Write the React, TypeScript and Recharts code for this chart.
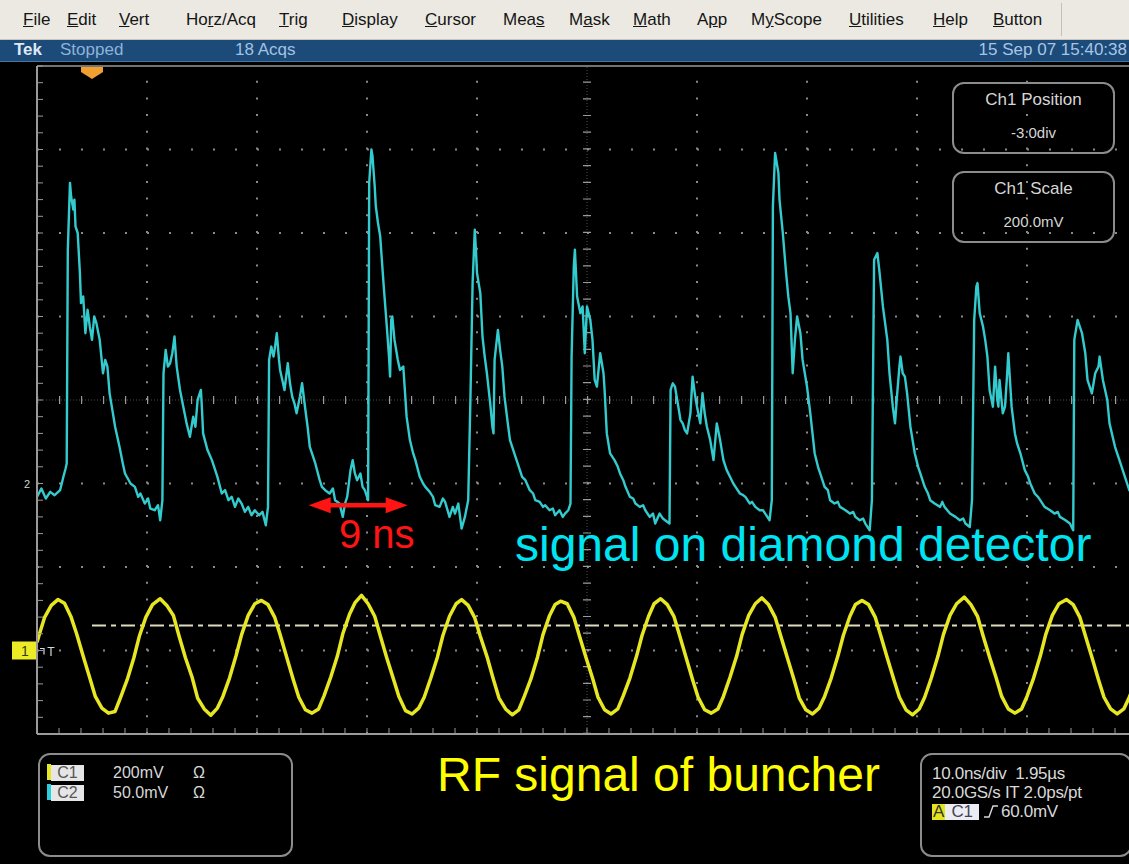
import React from "react";
import { LineChart, Line, XAxis, YAxis, ReferenceLine } from "recharts";

// Horizontal: 10.0 ns/div over 10 divisions; vertical: 8 divisions
const timeDivs = [0, 10, 20, 30, 40, 50, 60, 70, 80, 90, 100];
const voltDivs = [-4, -3, -2, -1, 0, 1, 2, 3, 4];

// Channel settings (mV/div, ground position in divisions)
const ch1 = { scale: 200, position: -3 };
const ch2 = { scale: 50, position: -1 };

// C2 – signal on diamond detector, [time ns, mV]
const diamondSignal: [number, number][] = [
  [0, -8], [0.4, -3], [0.8, -9], [1.2, -5], [1.6, -7], [2.1, -4], [2.4, 4], [2.6, 9], [2.7, 12], [2.8, 140],
  [3.0, 180], [3.1, 172], [3.3, 164], [3.4, 170], [3.5, 154], [3.7, 150], [3.9, 126], [4.0, 108], [4.2, 112], [4.4, 90],
  [4.6, 104], [4.8, 94], [5.0, 86], [5.2, 100], [5.4, 96], [5.7, 86], [6.0, 66], [6.2, 74], [6.4, 70], [6.6, 54],
  [6.8, 46], [7.1, 34], [7.5, 22], [7.8, 12], [8.0, 6], [8.5, 0], [8.9, -2], [9.2, -8], [9.4, -6], [9.8, -12],
  [10.1, -9], [10.3, -15], [10.7, -16], [11.0, -13], [11.2, -22], [11.4, -10], [11.5, 66], [11.7, 80], [11.9, 70], [12.1, 72],
  [12.3, 78], [12.5, 88], [12.7, 70], [13.0, 56], [13.3, 46], [13.6, 36], [13.9, 28], [14.2, 40], [14.4, 34], [14.6, 50],
  [14.9, 56], [15.0, 44], [15.1, 30], [15.5, 20], [15.9, 14], [16.2, 8], [16.4, 4], [16.8, -6], [17.1, -4], [17.4, -10],
  [17.7, -8], [18.0, -14], [18.3, -9], [18.6, -12], [18.9, -17], [19.2, -14], [19.5, -19], [19.8, -16], [20.2, -19], [20.5, -17],
  [20.8, -25], [21.0, -14], [21.1, 74], [21.3, 82], [21.5, 76], [21.6, 80], [21.8, 90], [22.0, 74], [22.1, 68], [22.3, 62],
  [22.5, 56], [22.8, 72], [23.0, 60], [23.2, 52], [23.4, 48], [23.6, 42], [23.9, 52], [24.1, 60], [24.4, 44], [24.6, 34],
  [24.8, 22], [25.0, 18], [25.3, 12], [25.7, 2], [25.9, -2], [26.2, -4], [26.6, -6], [26.9, -3], [27.1, -10], [27.5, -12],
  [27.8, -20], [28.0, -12], [28.2, -8], [28.5, 8], [28.7, 14], [28.9, 6], [29.1, 2], [29.4, 6], [29.6, -2], [29.8, -4],
  [30.1, -10], [30.2, 180], [30.4, 200], [30.5, 196], [30.7, 178], [30.8, 166], [31.0, 156], [31.2, 148], [31.5, 120], [31.8, 94],
  [32.0, 76], [32.1, 64], [32.2, 98], [32.3, 100], [32.5, 86], [32.7, 78], [32.8, 74], [33.0, 68], [33.3, 70], [33.6, 40],
  [33.9, 26], [34.2, 18], [34.4, 14], [34.8, 4], [35.1, 0], [35.3, -2], [35.7, -5], [36.0, -8], [36.2, -13], [36.6, -14],
  [36.9, -9], [37.1, -11], [37.5, -20], [37.8, -14], [38.0, -18], [38.3, -12], [38.6, -27], [38.9, -20], [39.2, -10], [39.4, 50],
  [39.6, 120], [39.8, 152], [39.9, 140], [40.0, 126], [40.3, 114], [40.5, 88], [40.7, 76], [40.9, 66], [41.2, 48], [41.4, 34],
  [41.5, 30], [41.6, 74], [41.9, 92], [42.1, 80], [42.3, 70], [42.5, 52], [42.8, 36], [43.0, 26], [43.2, 22], [43.5, 16],
  [43.9, 8], [44.1, 4], [44.4, 2], [44.8, -4], [45.1, -6], [45.3, -10], [45.7, -11], [46.0, -14], [46.2, -13], [46.6, -16],
  [46.9, -15], [47.1, -19], [47.5, -16], [47.8, -20], [48.0, -18], [48.3, -16], [48.5, -12], [48.6, 76], [48.8, 130], [48.9, 140],
  [49.1, 112], [49.4, 102], [49.6, 106], [49.8, 78], [50.0, 106], [50.3, 98], [50.5, 86], [50.7, 62], [50.9, 58], [51.2, 78],
  [51.5, 66], [51.6, 56], [51.8, 30], [52.1, 18], [52.5, 14], [52.8, 10], [53.0, 6], [53.3, 2], [53.5, -2], [53.9, -8],
  [54.2, -9], [54.4, -12], [54.8, -14], [55.1, -13], [55.3, -16], [55.7, -20], [56.0, -18], [56.2, -24], [56.6, -18], [56.9, -21],
  [57.1, -22], [57.5, -24], [57.6, 56], [57.8, 60], [58.0, 58], [58.3, 46], [58.5, 38], [58.7, 36], [58.9, 32], [59.1, 30],
  [59.4, 42], [59.6, 64], [59.8, 54], [60.0, 46], [60.3, 36], [60.5, 54], [60.7, 42], [60.9, 34], [61.2, 26], [61.5, 14],
  [61.8, 36], [62.1, 26], [62.4, 14], [62.7, 8], [63.0, 4], [63.3, 0], [63.5, -2], [63.9, -6], [64.2, -7], [64.4, -8],
  [64.8, -12], [65.0, -11], [65.3, -14], [65.7, -16], [66.0, -16], [66.2, -18], [66.6, -22], [66.8, -10], [66.9, 166], [67.1, 198],
  [67.3, 190], [67.4, 186], [67.5, 170], [67.8, 150], [68.1, 126], [68.3, 112], [68.5, 102], [68.7, 66], [68.9, 86], [69.1, 100],
  [69.4, 90], [69.6, 74], [69.8, 66], [70.0, 58], [70.3, 42], [70.5, 30], [70.7, 18], [71.0, 10], [71.2, 6], [71.6, -2],
  [71.9, -4], [72.1, -10], [72.5, -12], [72.8, -11], [73.0, -14], [73.5, -16], [73.9, -18], [74.2, -17], [74.4, -20], [74.8, -22],
  [75.1, -21], [75.3, -24], [75.7, -28], [75.9, -10], [76.1, 134], [76.4, 138], [76.6, 126], [76.9, 106], [77.1, 96], [77.3, 86],
  [77.5, 66], [77.8, 46], [78.0, 36], [78.2, 54], [78.4, 70], [78.5, 76], [78.7, 66], [78.9, 64], [79.1, 54], [79.4, 34],
  [79.8, 18], [80.1, 10], [80.3, 6], [80.7, -2], [81.0, -6], [81.2, -10], [81.6, -12], [82.1, -14], [82.3, -11], [82.5, -14],
  [83.0, -18], [83.5, -20], [83.9, -22], [84.2, -21], [84.4, -24], [84.8, -26], [85.0, -10], [85.2, 98], [85.4, 118], [85.5, 120],
  [85.7, 102], [86.0, 94], [86.2, 86], [86.4, 76], [86.6, 56], [86.9, 46], [87.1, 70], [87.3, 50], [87.4, 46], [87.5, 62],
  [87.8, 42], [88.0, 46], [88.2, 66], [88.3, 78], [88.6, 46], [88.9, 30], [89.1, 24], [89.4, 18], [89.8, 8], [90.1, 4],
  [90.3, 0], [90.7, -6], [91.0, -8], [91.2, -10], [91.6, -14], [92.1, -16], [92.5, -18], [92.8, -17], [93.0, -20], [93.5, -22],
  [93.9, -24], [94.2, -28], [94.3, 86], [94.6, 98], [94.8, 94], [95.0, 90], [95.3, 78], [95.5, 62], [95.9, 54], [96.2, 66],
  [96.5, 70], [96.6, 76], [96.9, 62], [97.1, 56], [97.3, 50], [97.5, 36], [98.0, 22], [98.5, 12], [98.9, 4], [99.3, -4],
  [100, -10],
];

// C1 – RF signal of buncher, [time ns, mV]
const buncherRf: [number, number][] = [
  [0, 20], [0.2, 38], [0.7, 80], [1.3, 108], [1.9, 122], [2.5, 113], [3.1, 80], [3.6, 40], [4.2, -14], [4.8, -66],
  [5.3, -110], [5.9, -138], [6.5, -150], [7.1, -146], [7.6, -112], [8.2, -70], [8.8, -18], [9.3, 34], [9.9, 80], [10.5, 110],
  [11.2, 124], [11.8, 108], [12.4, 84], [12.9, 36], [13.5, -18], [14.1, -64], [14.6, -114], [15.2, -140], [15.8, -155], [16.4, -138],
  [16.9, -110], [17.5, -66], [18.1, -12], [18.6, 38], [19.2, 84], [19.8, 112], [20.4, 120], [21.0, 110], [21.6, 80], [22.1, 38],
  [22.7, -16], [23.3, -70], [23.8, -112], [24.4, -142], [25.0, -150], [25.6, -140], [26.1, -108], [26.7, -64], [27.3, -14], [27.8, 40],
  [28.4, 86], [28.9, 114], [29.5, 132], [30.1, 112], [30.7, 82], [31.2, 36], [31.8, -18], [32.4, -68], [32.9, -110], [33.5, -144],
  [34.1, -152], [34.7, -138], [35.2, -112], [35.8, -66], [36.4, -16], [36.9, 36], [37.5, 82], [38.1, 112], [38.6, 122], [39.2, 108],
  [39.8, 78], [40.3, 34], [40.9, -14], [41.5, -70], [42.0, -114], [42.6, -140], [43.2, -154], [43.8, -142], [44.3, -110], [44.9, -68],
  [45.5, -16], [46.0, 38], [46.6, 84], [47.1, 110], [47.6, 118], [48.2, 112], [48.8, 80], [49.3, 36], [49.9, -16], [50.5, -66],
  [51.0, -112], [51.6, -142], [52.2, -152], [52.8, -140], [53.3, -108], [53.9, -66], [54.5, -14], [55.0, 36], [55.6, 82], [56.1, 112],
  [56.7, 124], [57.3, 110], [57.9, 82], [58.4, 38], [59.0, -16], [59.6, -70], [60.1, -112], [60.7, -142], [61.3, -150], [61.9, -140],
  [62.4, -110], [63.0, -64], [63.6, -14], [64.1, 38], [64.7, 84], [65.3, 112], [65.9, 126], [66.5, 110], [67.1, 80], [67.6, 36],
  [68.2, -16], [68.8, -68], [69.3, -114], [69.9, -142], [70.5, -152], [71.1, -138], [71.6, -110], [72.2, -66], [72.8, -14], [73.3, 36],
  [73.9, 82], [74.4, 110], [75.0, 120], [75.6, 110], [76.2, 80], [76.7, 36], [77.3, -18], [77.9, -70], [78.4, -112], [79.0, -142],
  [79.6, -154], [80.2, -140], [80.7, -112], [81.3, -66], [81.9, -14], [82.4, 38], [83.0, 84], [83.6, 112], [84.3, 128], [84.9, 110],
  [85.5, 82], [86.0, 36], [86.6, -16], [87.2, -66], [87.7, -110], [88.3, -140], [88.9, -150], [89.5, -140], [90.0, -110], [90.6, -66],
  [91.2, -14], [91.7, 38], [92.3, 84], [92.9, 112], [93.6, 122], [94.2, 110], [94.8, 80], [95.3, 36], [95.9, -16], [96.5, -70],
  [97.0, -112], [97.6, -140], [98.2, -152], [98.8, -140], [99.3, -112], [100, -66],
];

const triggerTimeNs = 5;
const triggerLevelMv = 60;
const spacingNs = 9;
const spacingStartNs = 24.7;
const spacingLevelMv = -13;

const menuItems = ["File", "Edit", "Vert", "Horz/Acq", "Trig", "Display", "Cursor", "Meas", "Mask", "Math", "App", "MyScope", "Utilities", "Help", "Button"];
const menuMnemonic = [0, 0, 0, 2, 0, 0, 0, 3, 1, 0, 1, 1, 0, 0, 0];
const menuLeft = [23, 67, 119, 186, 279, 342, 425, 503, 569, 633, 697, 751, 849, 933, 993];

const W = 1129;
const H = 864;
const FONT = "'Liberation Sans', Arial, sans-serif";
const GRID = "#8a8a8a";
const BORDER = "#9a9a9a";
const CYAN = "#34cbce";
const YELLOW = "#e6e622";

const toPoints = (rows: [number, number][]) => rows.map(([t, v]) => ({ t, v }));
const domainOf = (ch: { scale: number; position: number }): [number, number] => [
  (voltDivs[0] - ch.position) * ch.scale,
  (voltDivs[voltDivs.length - 1] - ch.position) * ch.scale,
];

const minorX: number[] = [];
for (let t = timeDivs[0]; t <= timeDivs[timeDivs.length - 1] + 1e-6; t += 2) minorX.push(+t.toFixed(2));
const minorY: number[] = [];
for (let d = voltDivs[0]; d <= voltDivs[voltDivs.length - 1] + 1e-6; d += 0.2) minorY.push(+d.toFixed(2));

const blank = () => "";

function SpacingArrow(p: any) {
  const xa = Math.min(p.x1, p.x2);
  const xb = Math.max(p.x1, p.x2);
  const y = p.y1;
  const head = 22;
  const half = 8;
  return (
    <g>
      <line x1={xa + head - 2} y1={y} x2={xb - head + 2} y2={y} stroke="#ff1414" strokeWidth={4.5} />
      <polygon points={`${xa},${y} ${xa + head},${y - half} ${xa + head},${y + half}`} fill="#ff1414" />
      <polygon points={`${xb},${y} ${xb - head},${y - half} ${xb - head},${y + half}`} fill="#ff1414" />
    </g>
  );
}

function TriggerMark(p: any) {
  const x = p.x1;
  const y = Math.min(p.y1, p.y2);
  return (
    <polygon
      points={`${x - 11},${y + 1} ${x + 11},${y + 1} ${x + 11},${y + 6} ${x},${y + 13} ${x - 11},${y + 6}`}
      fill="#f0a030"
    />
  );
}

function Ch1Ground(p: any) {
  const x = Math.min(p.x1, p.x2);
  const y = p.y1;
  return (
    <g>
      <rect x={x - 25} y={y - 9} width={25} height={18} fill="#ecec26" />
      <text x={x - 12} y={y + 5} textAnchor="middle" fontSize={14} fontFamily={FONT} fill="#3a3a10">1</text>
      <path d={`M${x + 3} ${y - 2} l4 0 l0 6`} stroke="#d8d8d8" strokeWidth={1.2} fill="none" />
      <text x={x + 14} y={y + 5} textAnchor="middle" fontSize={12} fontFamily={FONT} fill="#d8d8d8">T</text>
    </g>
  );
}

function Ch2Ground(p: any) {
  const x = Math.min(p.x1, p.x2);
  return (
    <text x={x - 10} y={p.y1 + 4} textAnchor="middle" fontSize={11} fontFamily={FONT} fill="#c8d8d8">2</text>
  );
}

function Scope() {
  return (
    <LineChart width={1150} height={H} margin={{ top: 66, left: 37, right: 13, bottom: 130 }}>
      <XAxis xAxisId="t" dataKey="t" type="number" domain={[timeDivs[0], timeDivs[timeDivs.length - 1]]} allowDataOverflow
        ticks={minorX} interval={0} orientation="bottom" mirror tickSize={6} tickFormatter={blank}
        axisLine={{ stroke: BORDER, strokeWidth: 2 }} tickLine={{ stroke: BORDER }} />
      <XAxis xAxisId="top" type="number" domain={[timeDivs[0], timeDivs[timeDivs.length - 1]]} allowDataOverflow
        ticks={minorX} interval={0} orientation="top" mirror tickSize={5} tickFormatter={blank}
        axisLine={{ stroke: BORDER, strokeWidth: 1.5 }} tickLine={{ stroke: BORDER }} />
      <YAxis yAxisId="div" type="number" domain={[voltDivs[0], voltDivs[voltDivs.length - 1]]} allowDataOverflow
        ticks={minorY} interval={0} mirror tickSize={6} tickFormatter={blank}
        axisLine={{ stroke: BORDER, strokeWidth: 2 }} tickLine={{ stroke: BORDER }} />
      <YAxis yAxisId="c1" type="number" domain={domainOf(ch1)} allowDataOverflow hide />
      <YAxis yAxisId="c2" type="number" domain={domainOf(ch2)} allowDataOverflow hide />

      {/* dotted graticule */}
      {timeDivs.slice(1, -1).filter((t) => t !== 50).map((t) => (
        <ReferenceLine key={`gx${t}`} x={t} xAxisId="t" yAxisId="div" stroke={GRID} strokeWidth={2} strokeDasharray="2 14.7" />
      ))}
      {voltDivs.slice(1, -1).filter((d) => d !== 0).map((d) => (
        <ReferenceLine key={`gy${d}`} y={d} xAxisId="t" yAxisId="div" stroke={GRID} strokeWidth={2} strokeDasharray="2 20" />
      ))}
      {/* centre cross with minor ticks */}
      <ReferenceLine x={50} xAxisId="t" yAxisId="div" stroke={GRID} strokeOpacity={0.55} strokeDasharray="1 2" />
      <ReferenceLine x={50} xAxisId="t" yAxisId="div" stroke={BORDER} strokeWidth={8} strokeDasharray="1.2 15.5" />
      <ReferenceLine y={0} xAxisId="t" yAxisId="div" stroke={GRID} strokeOpacity={0.55} strokeDasharray="1 2" />
      <ReferenceLine y={0} xAxisId="t" yAxisId="div" stroke={BORDER} strokeWidth={8} strokeDasharray="1.2 20.8" />

      {/* trigger */}
      <ReferenceLine segment={[{ x: triggerTimeNs, y: triggerLevelMv }, { x: timeDivs[timeDivs.length - 1], y: triggerLevelMv }]}
        xAxisId="t" yAxisId="c1" stroke="#dedcc0" strokeWidth={2} strokeDasharray="14 5 5 5" />
      <ReferenceLine x={triggerTimeNs} xAxisId="t" yAxisId="div" shape={TriggerMark} />
      <ReferenceLine y={0} xAxisId="t" yAxisId="c1" shape={Ch1Ground} />
      <ReferenceLine y={0} xAxisId="t" yAxisId="c2" shape={Ch2Ground} />

      <Line data={toPoints(buncherRf)} dataKey="v" xAxisId="t" yAxisId="c1" type="linear" dot={false}
        stroke={YELLOW} strokeWidth={3.5} strokeLinejoin="round" isAnimationActive={false} />
      <Line data={toPoints(diamondSignal)} dataKey="v" xAxisId="t" yAxisId="c2" type="linear" dot={false}
        stroke={CYAN} strokeWidth={2.4} strokeLinejoin="round" isAnimationActive={false} />

      <ReferenceLine segment={[{ x: spacingStartNs, y: spacingLevelMv }, { x: spacingStartNs + spacingNs, y: spacingLevelMv }]}
        xAxisId="t" yAxisId="c2" shape={SpacingArrow} />
    </LineChart>
  );
}

const abs = (s: React.CSSProperties): React.CSSProperties => ({ position: "absolute", ...s });

function Box({ left, top, width, height, children }: any) {
  return (
    <div style={abs({ left, top, width, height, border: "2px solid #8c8c8c", borderRadius: 12, boxSizing: "border-box" })}>
      {children}
    </div>
  );
}

function Tag({ bg, fg, children, w }: any) {
  return (
    <span style={{ display: "inline-block", background: bg, color: fg, width: w, textAlign: "center", lineHeight: "16px", height: 16 }}>{children}</span>
  );
}

export default function App() {
  return (
    <div style={abs({ left: 0, top: 0, width: W, height: H, background: "#000", overflow: "hidden", fontFamily: FONT })}>
      <div style={abs({ left: 0, top: 0 })}>
        <Scope />
      </div>

      {/* menu bar */}
      <div style={abs({ left: 0, top: 0, width: W, height: 39, background: "#ebe9e2", borderBottom: "1px solid #c9c5bb", fontSize: 17, color: "#151515" })}>
        {menuItems.map((m, i) => {
          const u = menuMnemonic[i];
          return (
            <span key={m} style={abs({ left: menuLeft[i], top: 10 })}>
              {m.slice(0, u)}<u>{m[u]}</u>{m.slice(u + 1)}
            </span>
          );
        })}
        <div style={abs({ left: 1061, top: 3, width: 1, height: 33, background: "#c4c0b6" })} />
      </div>

      {/* status bar */}
      <div style={abs({ left: 0, top: 40, width: W, height: 21, background: "#1c4a79", borderBottom: "1px solid #4a76a0", fontSize: 17, lineHeight: "21px" })}>
        <span style={abs({ left: 14, top: -1, color: "#dfe8f4", fontWeight: "bold" })}>Tek</span>
        <span style={abs({ left: 60, top: -1, color: "#8fb2d8" })}>Stopped</span>
        <span style={abs({ left: 235, top: -1, color: "#a2c2e2" })}>18 Acqs</span>
        <span style={abs({ right: 2, top: -1, color: "#a8c6e4" })}>15 Sep 07 15:40:38</span>
      </div>

      {/* control readouts */}
      <Box left={952} top={82} width={163} height={72}>
        <div style={abs({ left: 0, right: 0, top: 6, textAlign: "center", color: "#d6d6d6", fontSize: 17 })}>Ch1 Position</div>
        <div style={abs({ left: 0, right: 0, top: 40, textAlign: "center", color: "#d6d6d6", fontSize: 15 })}>-3.0div</div>
      </Box>
      <Box left={952} top={171} width={163} height={72}>
        <div style={abs({ left: 0, right: 0, top: 6, textAlign: "center", color: "#d6d6d6", fontSize: 17 })}>Ch1 Scale</div>
        <div style={abs({ left: 0, right: 0, top: 40, textAlign: "center", color: "#d6d6d6", fontSize: 15 })}>200.0mV</div>
      </Box>

      {/* channel readout */}
      <Box left={38} top={753} width={255} height={104}>
        <div style={abs({ left: 7, top: 9, fontSize: 16, color: "#d8d8d8", whiteSpace: "pre" })}>
          <span style={{ display: "inline-block", width: 4, height: 16, background: "#e8e820", verticalAlign: "top" }} />
          <Tag bg="#e6e6e6" fg="#555" w={33}>C1</Tag>
          <span style={abs({ left: 66, top: 0 })}>200mV</span>
          <span style={abs({ left: 146, top: 0 })}>Ω</span>
        </div>
        <div style={abs({ left: 7, top: 29, fontSize: 16, color: "#d8d8d8", whiteSpace: "pre" })}>
          <span style={{ display: "inline-block", width: 4, height: 16, background: "#26d0dc", verticalAlign: "top" }} />
          <Tag bg="#e6e6e6" fg="#555" w={33}>C2</Tag>
          <span style={abs({ left: 66, top: 0 })}>50.0mV</span>
          <span style={abs({ left: 146, top: 0 })}>Ω</span>
        </div>
      </Box>

      {/* horizontal / trigger readout */}
      <Box left={920} top={753} width={212} height={104}>
        <div style={abs({ left: 10, top: 9, fontSize: 17, color: "#d8d8d8", whiteSpace: "pre", letterSpacing: -0.3, lineHeight: "19px" })}>
          <div>10.0ns/div  1.95µs</div>
          <div>20.0GS/s IT 2.0ps/pt</div>
          <div>
            <Tag bg="#e4e41e" fg="#333" w={13}>A</Tag>
            <Tag bg="#ececf4" fg="#445" w={34}>C1</Tag>
            <svg width={16} height={14} style={{ verticalAlign: "-1px", margin: "0 2px 0 4px" }}>
              <path d="M1 13 L6 13 L10 2 L15 2" stroke="#d8d8d8" strokeWidth={1.4} fill="none" />
            </svg>
            60.0mV
          </div>
        </div>
      </Box>

      {/* annotations */}
      <div style={abs({ left: 339, top: 514, fontSize: 40, lineHeight: 1, color: "#ff1414" })}>9 ns</div>
      <div style={abs({ left: 515, top: 521, fontSize: 48, lineHeight: 1, color: "#00e4f2", whiteSpace: "nowrap" })}>signal on diamond detector</div>
      <div style={abs({ left: 437, top: 751, fontSize: 48, lineHeight: 1, color: "#ffff00", whiteSpace: "nowrap" })}>RF signal of buncher</div>
    </div>
  );
}
